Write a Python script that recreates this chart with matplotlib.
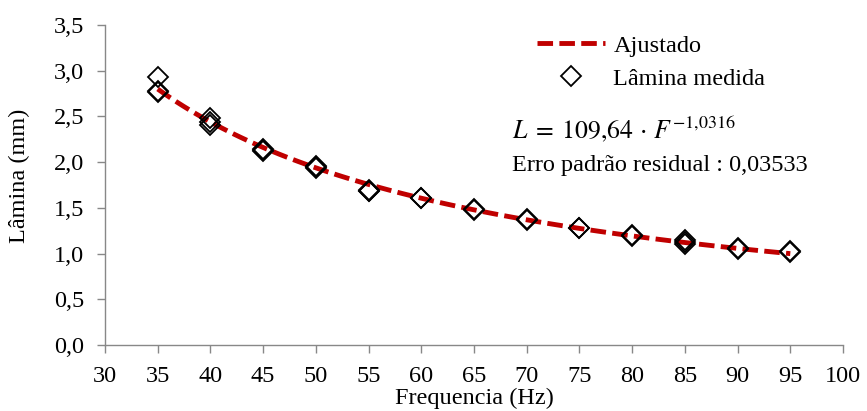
import matplotlib.pyplot as plt
import numpy as np

plt.rcParams['font.family'] = ['Liberation Serif', 'DejaVu Serif']
plt.rcParams['mathtext.fontset'] = 'stix'

# measured data (Hz, mm)
freq = [35, 35, 35, 40, 40, 40, 45, 45, 45, 50, 50, 50, 55, 55, 55, 60, 60, 65, 65,
        70, 70, 75, 75, 80, 80, 85, 85, 85, 90, 90, 95, 95]
lamina = [2.93, 2.78, 2.77, 2.48, 2.44, 2.41, 2.13, 2.14, 2.12, 1.95, 1.96, 1.94,
          1.68, 1.69, 1.68, 1.61, 1.61, 1.48, 1.49, 1.37, 1.38, 1.28, 1.28, 1.20, 1.19,
          1.15, 1.13, 1.11, 1.05, 1.06, 1.02, 1.03]

# fitted model
a = 109.64
b = -1.0316
f_fit = np.linspace(35, 95, 100)
l_fit = a * f_fit ** b

fs = 17.5

fig, ax = plt.subplots(figsize=(8.67, 4.11), dpi=100)
fig.subplots_adjust(left=105/867, right=843/867, bottom=1-345/411, top=1-25/411)

ax.plot(f_fit, l_fit, color='#C00000', linestyle=(0, (3.2, 1.3)), linewidth=3.5, label='Ajustado', zorder=2)
ax.plot(freq, lamina, linestyle='none', marker='D', markersize=10, markerfacecolor='none',
        markeredgecolor='black', markeredgewidth=1.3, label='Lâmina medida', zorder=3)

ax.set_xlim(30, 100)
ax.set_ylim(0, 3.5)
ax.set_xticks(range(30, 101, 5))
yt = np.arange(0, 3.51, 0.5)
ax.set_yticks(yt)
ax.set_yticklabels([f'{v:.1f}'.replace('.', ',') for v in yt])
ax.tick_params(labelsize=fs, color='#888888', length=6, width=1, pad=9)
for s in ['top', 'right']:
    ax.spines[s].set_visible(False)
for s in ['left', 'bottom']:
    ax.spines[s].set_color('#888888')
    ax.spines[s].set_linewidth(1)

ax.set_xlabel('Frequencia (Hz)', fontsize=fs)
ax.xaxis.set_label_coords(0.5, -0.135)
ax.set_ylabel('Lâmina (mm)', fontsize=fs)
ax.yaxis.set_label_coords(-0.102, 0.53)

ax.legend(loc='upper left', bbox_to_anchor=(0.585, 0.97), frameon=False, fontsize=fs,
          borderaxespad=0, borderpad=0, handlelength=2.8, handletextpad=0.35, labelspacing=0.45)

ax.text(0.5515, 0.647, r'$L\;=\;109{,}64\,\cdot\,F^{-1{,}0316}$', transform=ax.transAxes,
        fontsize=18.5, va='baseline')
ax.text(0.5515, 0.5625, 'Erro padrão residual : 0,03533', transform=ax.transAxes,
        fontsize=fs, va='center')

plt.savefig('out.png', dpi=100)
